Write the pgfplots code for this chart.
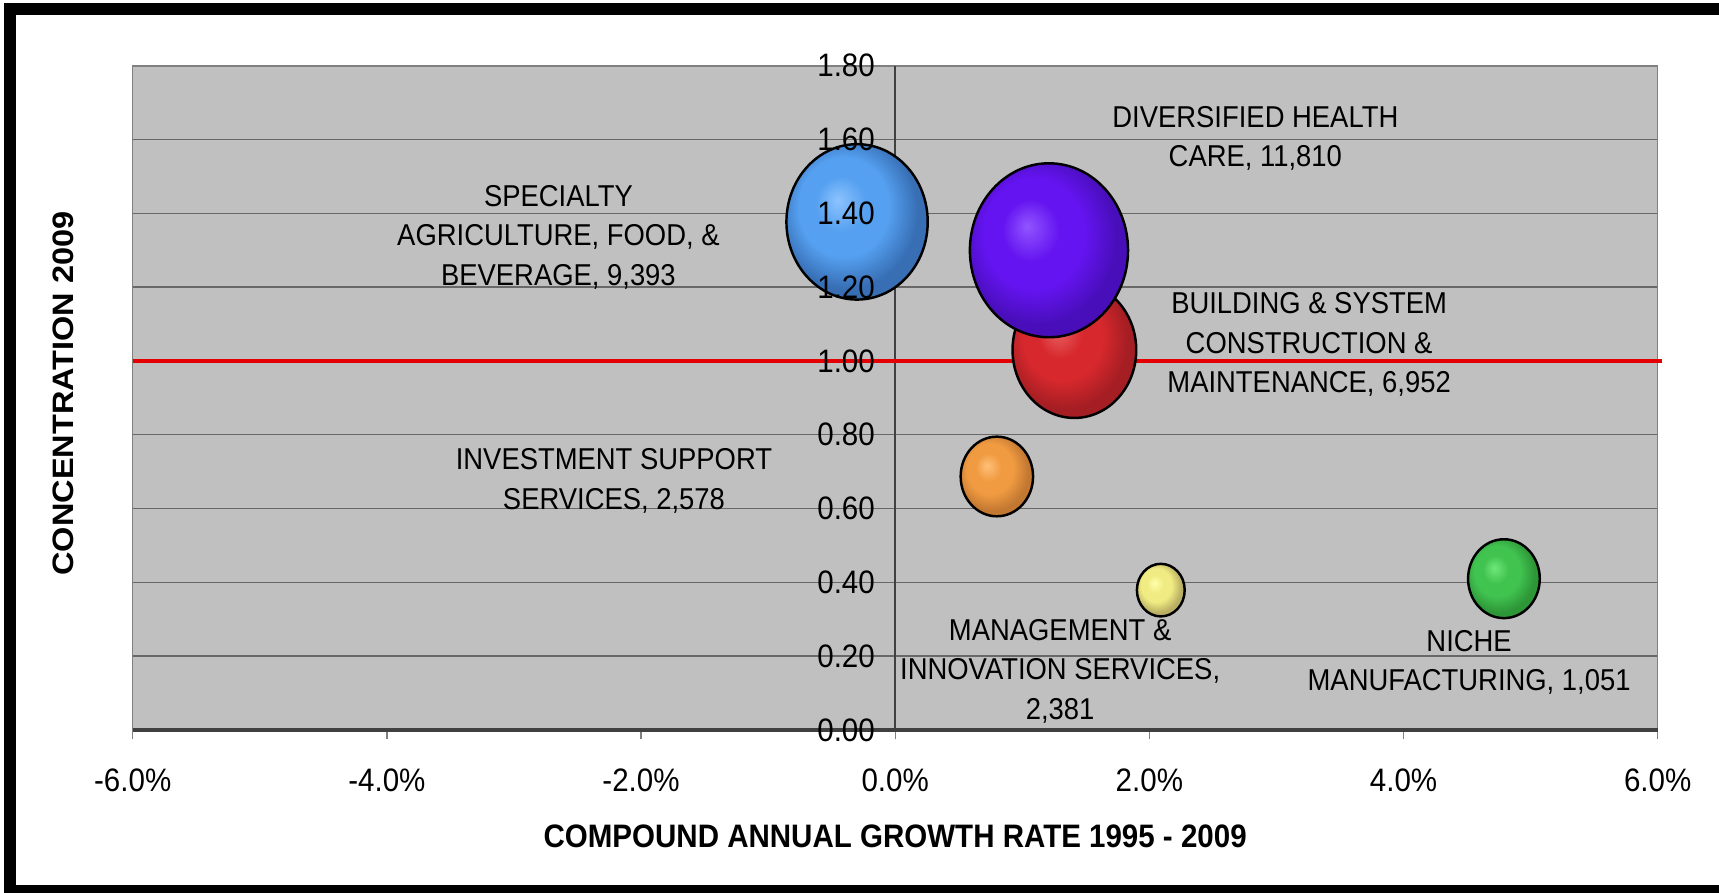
\documentclass[border=0pt]{standalone}
\usepackage{fontspec}
\setmainfont{Liberation Sans}
\usepackage{pgfplots}
\pgfplotsset{compat=1.18}

\definecolor{plotbg}{HTML}{C0C0C0}
\definecolor{boxgray}{HTML}{808080}
\definecolor{gridgray}{HTML}{686868}
\definecolor{axisdark}{HTML}{404040}
\definecolor{refred}{RGB}{228,0,0}

% bubble colours: highlight, body, rim
\definecolor{blueA}{RGB}{140,195,255}
\definecolor{blueB}{RGB}{85,160,240}
\definecolor{blueC}{RGB}{55,110,180}
\definecolor{purpA}{RGB}{145,85,255}
\definecolor{purpB}{RGB}{100,20,240}
\definecolor{purpC}{RGB}{72,14,185}
\definecolor{redA}{RGB}{232,95,95}
\definecolor{redB}{RGB}{215,40,45}
\definecolor{redC}{RGB}{165,30,35}
\definecolor{orA}{RGB}{255,192,120}
\definecolor{orB}{RGB}{240,155,65}
\definecolor{orC}{RGB}{195,120,50}
\definecolor{yelA}{RGB}{255,255,170}
\definecolor{yelB}{RGB}{240,235,130}
\definecolor{yelC}{RGB}{185,175,100}
\definecolor{grnA}{RGB}{110,232,120}
\definecolor{grnB}{RGB}{65,195,80}
\definecolor{grnC}{RGB}{45,150,55}

% shaded, slightly tall bubble mark
\newcommand\bubble[4]{%
  \pgfdeclareradialshading{shade#1}{\pgfqpoint{-7bp}{7bp}}{%
    color(0bp)=(#2); color(9bp)=(#3); color(16bp)=(#3); color(25bp)=(#4); color(50bp)=(#4)}%
  \pgfdeclareplotmark{#1}{%
    \pgfpathellipse{\pgfpointorigin}{\pgfqpoint{\pgfplotmarksize}{0pt}}{\pgfqpoint{0pt}{1.1\pgfplotmarksize}}%
    \pgfshadepath{shade#1}{0}%
    \pgfusepathqstroke}}
\bubble{bblue}{blueA}{blueB}{blueC}
\bubble{bpurp}{purpA}{purpB}{purpC}
\bubble{bred}{redA}{redB}{redC}
\bubble{bor}{orA}{orB}{orC}
\bubble{byel}{yelA}{yelB}{yelC}
\bubble{bgrn}{grnA}{grnB}{grnC}

\tikzset{lbl/.style={align=center, inner sep=0pt, yscale=1.1,
                     font=\fontsize{7.8}{10.2}\selectfont}}
\pgfplotsset{
  frame/.style={
    at={(0,0)}, anchor=south west,
    width=15.25cm, height=6.642cm, scale only axis,
    xmin=-6, xmax=6, ymin=0, ymax=1.8,
    ytick={0,0.2,0.4,0.6,0.8,1,1.2,1.4,1.6,1.8},
    tick align=outside,
    major tick length=0.95mm,
    ytick style={draw=none},
    ticklabel style={font=\fontsize{8.4}{10}\selectfont, yscale=1.1},
    yticklabel style={anchor=east, inner sep=0pt, xshift=7.523cm},
  },
}

\begin{document}
\begin{tikzpicture}
\begin{axis}[
    frame,
    clip=false,
    axis background/.style={fill=plotbg},
    axis line style={draw=boxgray, line width=0.45pt},
    xtick={-6,-4,-2,0,2,4,6},
    xticklabels={-6.0\%,-4.0\%,-2.0\%,0.0\%,2.0\%,4.0\%,6.0\%},
    yticklabels={},
    ymajorgrids,
    grid style={draw=gridgray, line width=0.4pt},
    xtick pos=left,
    xtick style={draw=boxgray, line width=0.4pt},
    xticklabel style={anchor=center, inner sep=0pt, yshift=-3.7mm},
    extra x ticks={0}, extra x tick labels={},
    extra x tick style={grid=major, grid style={draw=axisdark, line width=0.45pt}},
    extra y ticks={0}, extra y tick labels={},
    extra y tick style={grid=major, grid style={draw=axisdark, line width=0.9pt}},
    xlabel={COMPOUND ANNUAL GROWTH RATE 1995 - 2009},
    ylabel={CONCENTRATION 2009},
    every axis x label/.style={at={(axis description cs:0.5,-0.1597)}, anchor=center,
                               yscale=1.1, font=\bfseries\fontsize{8.4}{10}\selectfont},
    every axis y label/.style={at={(axis description cs:-0.04531,0.5065)}, anchor=center,
                               rotate=90, xscale=1.1, font=\bfseries\fontsize{8.4}{10}\selectfont},
    bubble/.style={black, only marks, mark options={line width=0.7pt}},
  ]
% bubbles: x = growth (%), y = concentration; mark size = bubble radius
\addplot[bubble, mark=bblue, mark size=20.1pt] coordinates {(-0.30,1.377)};
\addplot[bubble, mark=bred,  mark size=17.6pt] coordinates {(1.41,1.03)};
\addplot[bubble, mark=bpurp, mark size=22.5pt] coordinates {(1.21,1.30)};
\addplot[bubble, mark=bor,   mark size=10.3pt] coordinates {(0.80,0.687)};
\addplot[bubble, mark=byel,  mark size=6.8pt]  coordinates {(2.09,0.379)};
\addplot[bubble, mark=bgrn,  mark size=10.2pt] coordinates {(4.79,0.41)};
% reference line at 1.0
\addplot[refred, line width=1pt, no marks] coordinates {(-6,1) (6.03,1)};

\node[lbl] at (axis cs:-2.65,1.336) {SPECIALTY\\AGRICULTURE, FOOD, \&\\BEVERAGE, 9,393};
\node[lbl] at (axis cs:2.834,1.603) {DIVERSIFIED HEALTH\\CARE, 11,810};
\node[lbl] at (axis cs:3.257,1.044) {BUILDING \& SYSTEM\\CONSTRUCTION \&\\MAINTENANCE, 6,952};
\node[lbl] at (axis cs:-2.213,0.675) {INVESTMENT SUPPORT\\SERVICES, 2,578};
\node[lbl] at (axis cs:1.298,0.159) {MANAGEMENT \&\\INNOVATION SERVICES,\\2,381};
\node[lbl] at (axis cs:4.516,0.183) {NICHE\\MANUFACTURING, 1,051};
\end{axis}
% second, empty axis on the same frame: it only sets the y numbers,
% so they are drawn on top of the bubbles as in the original
\begin{axis}[
    frame,
    hide x axis,
    axis line style={draw=none},
    yticklabels={0.00,0.20,0.40,0.60,0.80,1.00,1.20,1.40,1.60,1.80},
  ]
\end{axis}
\draw[line width=1.2mm] (-1.222,-1.61) rectangle (15.973,7.205);
\pgfresetboundingbox
\path[use as bounding box] (-1.327,-1.63) rectangle (15.863,7.30);
\end{tikzpicture}
\end{document}
